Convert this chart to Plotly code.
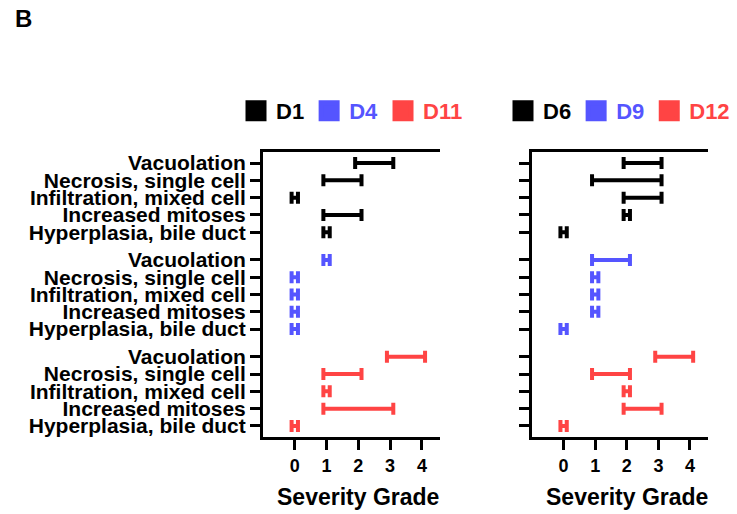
import plotly.graph_objects as go

# ---------------- data ----------------
lesions = ["Vacuolation", "Necrosis, single cell", "Infiltration, mixed cell",
           "Increased mitoses", "Hyperplasia, bile duct"]

left_groups = ["D1", "D4", "D11"]
left_min = {
    "D1": [2, 1, 0, 1, 1],
    "D4": [1, 0, 0, 0, 0],
    "D11": [3, 1, 1, 1, 0],
}
left_max = {
    "D1": [3, 2, 0, 2, 1],
    "D4": [1, 0, 0, 0, 0],
    "D11": [4, 2, 1, 3, 0],
}

right_groups = ["D6", "D9", "D12"]
right_min = {
    "D6": [2, 1, 2, 2, 0],
    "D9": [1, 1, 1, 1, 0],
    "D12": [3, 1, 2, 2, 0],
}
right_max = {
    "D6": [3, 3, 3, 2, 0],
    "D9": [2, 1, 1, 1, 0],
    "D12": [4, 2, 2, 3, 0],
}

x_ticks = [0, 1, 2, 3, 4]
x_title = "Severity Grade"
panel_letter = "B"

# ---------------- style ----------------
COLORS = ["#000000", "#5555FF", "#FF4444"]
GROUP_STEP = 5.6     # rows per group incl. gap
PAD = 0.1            # visual extension of range bars
FONT = "Liberation Sans, Arial, sans-serif"
W, H = 737, 514

fig = go.Figure()

def ypos(g):
    return [g * GROUP_STEP + i for i in range(len(lesions))]

def add_panel(groups, mins, maxs, xa, ya, legend):
    for g, (name, col) in enumerate(zip(groups, COLORS)):
        lo, hi = mins[name], maxs[name]
        mid = [(a + b) / 2 for a, b in zip(lo, hi)]
        half = [(b - a) / 2 + PAD for a, b in zip(lo, hi)]
        fig.add_trace(go.Scatter(
            x=mid, y=ypos(g), mode="markers",
            marker=dict(size=2, color=col, opacity=0),
            error_x=dict(type="data", symmetric=True, array=half,
                         color=col, thickness=4, width=6),
            xaxis=xa, yaxis=ya, showlegend=False, hoverinfo="skip"))
        fig.add_trace(go.Scatter(
            x=[None], y=[None], mode="markers",
            marker=dict(symbol="square", size=16, color=col,
                        line=dict(color=col, width=5)),
            name=f"<span style='color:{col}'>{name}</span>",
            xaxis=xa, yaxis=ya, legend=legend, showlegend=True))

add_panel(left_groups, left_min, left_max, "x", "y", "legend")
add_panel(right_groups, right_min, right_max, "x2", "y2", "legend2")

tickvals = [v for g in range(3) for v in ypos(g)]
ticktext = lesions * 3

y_dom = [1 - 437 / H, 1 - 152 / H]
y_range = [15.84, -0.64]
x_range = [-1.0, 4.57]

axis_common = dict(showline=True, linewidth=3, linecolor="black",
                   ticks="outside", ticklen=10, tickwidth=3, tickcolor="black",
                   showgrid=False, zeroline=False)

xfont = dict(family=FONT, size=18, color="black", weight="bold")
tfont = dict(family=FONT, size=23, color="black", weight="bold")

annotations = [dict(text=panel_letter, x=13 / W, y=1 - 19 / H,
                    xref="paper", yref="paper", xanchor="left",
                    yanchor="middle", showarrow=False,
                    font=dict(family=FONT, size=24, color="black",
                              weight="bold"))]
for xr in ["x", "x2"]:
    annotations.append(dict(text=x_title, x=2, xref=xr, y=1 - 497 / H,
                            yref="paper", xanchor="center", yanchor="middle",
                            showarrow=False, font=tfont))

fig.update_layout(
    width=W, height=H,
    margin=dict(l=0, r=0, t=0, b=0),
    paper_bgcolor="white", plot_bgcolor="white",
    font=dict(family=FONT, color="black"),
    xaxis=dict(domain=[263 / W, 440 / W], range=x_range, tickvals=x_ticks,
               tickfont=xfont, mirror=True, **axis_common),
    xaxis2=dict(domain=[532 / W, 708 / W], range=x_range, tickvals=x_ticks,
                tickfont=xfont, mirror=True, anchor="y2", **axis_common),
    yaxis=dict(domain=y_dom, range=y_range, tickvals=tickvals,
               ticktext=ticktext,
               tickfont=dict(family=FONT, size=21, color="black", weight="bold"),
               **axis_common),
    yaxis2=dict(domain=y_dom, range=y_range, tickvals=tickvals,
                showticklabels=False, anchor="x2", **axis_common),
    legend=dict(orientation="h", x=236 / W, xanchor="left",
                y=1 - 111 / H, yanchor="middle",
                font=dict(family=FONT, size=22, weight="bold"),
                bgcolor="rgba(0,0,0,0)", itemclick=False),
    legend2=dict(orientation="h", x=503 / W, xanchor="left",
                 y=1 - 111 / H, yanchor="middle",
                 font=dict(family=FONT, size=22, weight="bold"),
                 bgcolor="rgba(0,0,0,0)", itemclick=False),
    annotations=annotations,
)

fig.write_html("out.html",
               config={"displayModeBar": False, "staticPlot": True},
               post_script="document.body.style.margin='0';"
                           "document.body.style.overflow='hidden';")
